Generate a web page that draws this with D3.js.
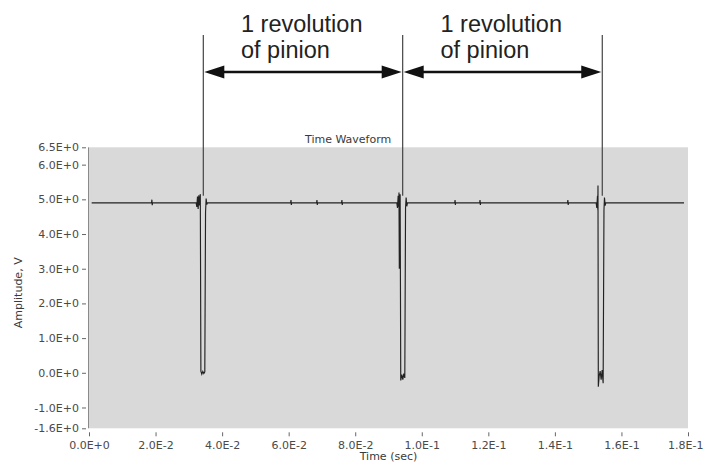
<!DOCTYPE html>
<html>
<head>
<meta charset="utf-8">
<script src="https://cdn.jsdelivr.net/npm/d3@7"></script>
<style>
  body { margin: 0; background: #fff; }
  svg { display: block; }
  .tick text { font-family: "DejaVu Sans", sans-serif; font-size: 11px; fill: #4a4a4a; }
  .axlabel { font-family: "DejaVu Sans", sans-serif; font-size: 11px; fill: #3a3a3a; }
  .note { font-family: "Liberation Sans", Arial, sans-serif; font-size: 23.5px; fill: #222; }
</style>
</head>
<body>
<div id="chart"></div>
<script>
// time (sec), amplitude (V)
var waveform = [
  [0.0008, 4.9],
  [0.0188, 4.9], [0.0189, 4.99], [0.0190, 4.83], [0.0191, 4.9],
  [0.0322, 4.9], [0.0324, 4.78], [0.0326, 5.08], [0.0328, 4.72], [0.0330, 5.12], [0.0332, 4.82],
  [0.03345, 5.15], [0.03362, 0.05], [0.0339, -0.04], [0.0342, 0.04], [0.0345, -0.02], [0.0348, 0.03],
  [0.03502, 4.62], [0.0352, 5.02], [0.0354, 4.85], [0.0356, 4.9],
  [0.0606, 4.9], [0.0607, 4.98], [0.0608, 4.84], [0.0609, 4.9],
  [0.0684, 4.9], [0.0685, 4.98], [0.0686, 4.84], [0.0687, 4.9],
  [0.0759, 4.9], [0.0760, 4.98], [0.0761, 4.84], [0.0762, 4.9],
  [0.0925, 4.9], [0.0927, 4.75], [0.0929, 5.1], [0.0931, 4.78], [0.09315, 5.2], [0.09325, 3.0],
  [0.0935, 5.15], [0.09368, -0.22], [0.0940, -0.05], [0.0943, -0.2], [0.0946, -0.02], [0.0949, -0.15],
  [0.09512, 4.75], [0.0953, 5.05], [0.0955, 4.8], [0.0957, 4.9],
  [0.1099, 4.9], [0.1100, 4.98], [0.1101, 4.84], [0.1102, 4.9],
  [0.1174, 4.9], [0.1175, 4.98], [0.1176, 4.84], [0.1177, 4.9],
  [0.1438, 4.9], [0.1439, 4.98], [0.1440, 4.84], [0.1441, 4.9],
  [0.1524, 4.9], [0.1526, 4.75], [0.1528, 5.1], [0.1529, 4.7], [0.15295, 5.4], [0.15305, -0.4],
  [0.1533, -0.1], [0.1536, 0.05], [0.1539, -0.2], [0.1542, 0.08], [0.1545, -0.3],
  [0.15475, 4.7], [0.1549, 5.05], [0.1551, 4.82], [0.1553, 4.9],
  [0.1788, 4.9]
];

var yTickValues = [6.5, 6.0, 5.0, 4.0, 3.0, 2.0, 1.0, 0.0, -1.0, -1.6];
var yTickLabels = ["6.5E+0", "6.0E+0", "5.0E+0", "4.0E+0", "3.0E+0", "2.0E+0", "1.0E+0", "0.0E+0", "-1.0E+0", "-1.6E+0"];
var xTickValues = [0, 0.02, 0.04, 0.06, 0.08, 0.10, 0.12, 0.14, 0.16, 0.18];
var xTickLabels = ["0.0E+0", "2.0E-2", "4.0E-2", "6.0E-2", "8.0E-2", "1.0E-1", "1.2E-1", "1.4E-1", "1.6E-1", "1.8E-1"];

// one pinion revolution marks (sec)
var revMarks = [0.03435, 0.09426, 0.15424];
var revLabel = ["1 revolution", "of pinion"];

var width = 704, height = 470;
var plot = {left: 89, right: 688, top: 147.3, bottom: 428.3};

var x = d3.scaleLinear().domain([0, 0.18]).range([plot.left, plot.right]);
var y = d3.scaleLinear().domain([-1.6, 6.5]).range([plot.bottom, plot.top]);

var svg = d3.select('#chart')
  .append('svg')
    .attr('width', width)
    .attr('height', height);

// plot background
svg.append('rect')
  .attr('x', plot.left)
  .attr('y', plot.top)
  .attr('width', plot.right - plot.left)
  .attr('height', plot.bottom - plot.top)
  .attr('fill', '#d9d9d9');

svg.append('line')
  .attr('x1', plot.left - 0.5).attr('x2', plot.left - 0.5)
  .attr('y1', plot.top).attr('y2', plot.bottom)
  .attr('stroke', '#8a8a8a');

// Y axis
var yAxis = d3.axisLeft(y)
  .tickValues(yTickValues)
  .tickSize(4)
  .tickPadding(3)
  .tickFormat(function(d, i) { return yTickLabels[i]; });

var gy = svg.append('g')
  .attr('transform', 'translate(' + (plot.left - 3) + ',0)')
  .call(yAxis);
gy.select('.domain').remove();
gy.selectAll('.tick line').attr('stroke', '#666');

// X axis
var xAxis = d3.axisBottom(x)
  .tickValues(xTickValues)
  .tickSize(4)
  .tickPadding(5)
  .tickFormat(function(d, i) { return xTickLabels[i]; });

var gx = svg.append('g')
  .attr('transform', 'translate(0,' + (plot.bottom + 4) + ')')
  .call(xAxis);
gx.select('.domain').remove();
gx.selectAll('.tick line').attr('stroke', '#666');

// keep the last label inside the page
gx.select('.tick:last-of-type text')
  .attr('text-anchor', 'end')
  .attr('x', width - 1 - plot.right);

// titles
svg.append('text')
  .attr('class', 'axlabel')
  .attr('x', 305)
  .attr('y', 143)
  .text('Time Waveform');

svg.append('text')
  .attr('class', 'axlabel')
  .attr('text-anchor', 'middle')
  .attr('x', (plot.left + plot.right) / 2)
  .attr('y', 460)
  .text('Time (sec)');

svg.append('text')
  .attr('class', 'axlabel')
  .attr('text-anchor', 'middle')
  .attr('transform', 'translate(22,' + ((plot.top + plot.bottom) / 2 + 5) + ') rotate(-90)')
  .text('Amplitude, V');

// waveform
var valueline = d3.line()
  .x(function(d) { return x(d[0]); })
  .y(function(d) { return y(d[1]); });

svg.append('path')
  .attr('d', valueline(waveform))
  .attr('fill', 'none')
  .attr('stroke', '#222')
  .attr('stroke-width', 1.15);

// revolution annotation
var arrowY = 72;
svg.selectAll('.rev-line')
  .data(revMarks)
  .enter().append('line')
  .attr('class', 'rev-line')
  .attr('x1', function(d) { return x(d); })
  .attr('x2', function(d) { return x(d); })
  .attr('y1', 35)
  .attr('y2', y(5.1))
  .attr('stroke', '#444')
  .attr('stroke-width', 1.2);

var spans = d3.pairs(revMarks);
spans.forEach(function(s) {
  var x0 = x(s[0]) + 1, x1 = x(s[1]) - 1, ah = 20, hw = 6.5;
  svg.append('line')
    .attr('x1', x0 + 10).attr('x2', x1 - 10)
    .attr('y1', arrowY).attr('y2', arrowY)
    .attr('stroke', '#111')
    .attr('stroke-width', 2.5);
  svg.append('path')
    .attr('d', 'M' + x0 + ',' + arrowY + 'L' + (x0 + ah) + ',' + (arrowY - hw) + 'L' + (x0 + ah) + ',' + (arrowY + hw) + 'Z')
    .attr('fill', '#111');
  svg.append('path')
    .attr('d', 'M' + x1 + ',' + arrowY + 'L' + (x1 - ah) + ',' + (arrowY - hw) + 'L' + (x1 - ah) + ',' + (arrowY + hw) + 'Z')
    .attr('fill', '#111');

  var left = (x(s[0]) + x(s[1])) / 2 - 62;
  var t = svg.append('text')
    .attr('class', 'note')
    .attr('x', left)
    .attr('y', 32);
  t.append('tspan').attr('x', left).attr('y', 32).text(revLabel[0]);
  t.append('tspan').attr('x', left).attr('y', 58).text(revLabel[1]);
});
</script>
</body>
</html>
